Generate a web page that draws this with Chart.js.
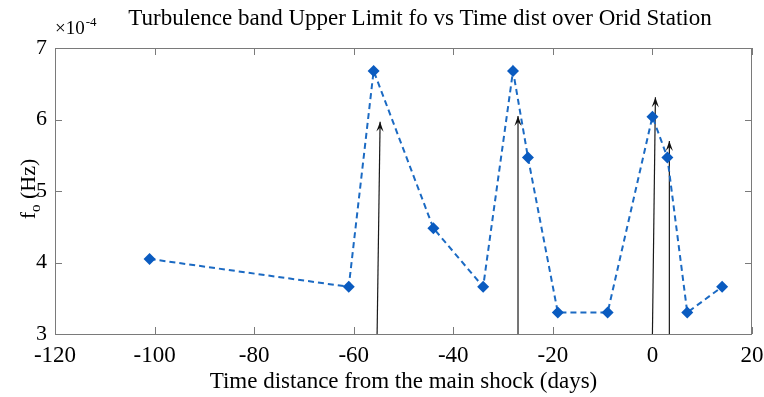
<!DOCTYPE html>
<html><head><meta charset="utf-8">
<script src="https://cdn.jsdelivr.net/npm/chart.js@4/dist/chart.umd.min.js"></script>
<style>html,body{margin:0;padding:0;background:#fff}#wrap{width:764px;height:397px;position:relative}</style>
</head><body><div id="wrap"><canvas id="c" width="764" height="397"></canvas></div>
<script>
// ---- data (fo in units of 1e-4 Hz) ----
const days = [-101, -61, -56, -44, -34, -28, -25, -19, -9, 0, 3, 7, 14];
const foE4 = [4.05, 3.66, 6.68, 4.48, 3.66, 6.68, 5.47, 3.30, 3.30, 6.04, 5.47, 3.30, 3.66];
// arrows (events): base on x axis, tip position
const arrowBaseX = [-55.3, -27, 0, 3.4];
const arrowTipX = [-54.7, -27, 0.6, 3.4];
const arrowTipY = [5.97, 6.05, 6.31, 5.70];
const xTicks = [-120, -100, -80, -60, -40, -20, 0, 20];
const yTicks = [3, 4, 5, 6, 7];
const titleText = 'Turbulence band Upper Limit fo vs Time dist over Orid Station';
const xLabel = 'Time distance from the main shock (days)';
const yLabelMain = 'f';
const yLabelSub = 'o';
const yLabelRest = ' (Hz)';
const expBase = '\u00d710';
const expPow = '-4';

const SERIF = '"Liberation Serif", "Times New Roman", serif';
const Y_MIN = 3, Y_MAX = 7, X_MIN = -120, X_MAX = 20;

const datasets = [{
  label: 'fo',
  data: days.map((d, i) => ({x: d, y: foE4[i]})),
  borderColor: '#1b6ac3',
  borderWidth: 2,
  borderDash: [6, 4],
  pointStyle: 'rectRot',
  pointRadius: 6,
  pointBackgroundColor: '#0a5bc0',
  pointBorderColor: '#0a5bc0',
  pointBorderWidth: 0,
  tension: 0,
  order: 1
}];
arrowBaseX.forEach((bx, i) => {
  datasets.push({
    label: 'arrow' + i,
    isArrow: true,
    data: [{x: bx, y: Y_MIN}, {x: arrowTipX[i], y: arrowTipY[i]}],
    borderColor: '#1a1a1a',
    borderWidth: 1.2,
    pointRadius: 0,
    tension: 0,
    order: 2
  });
});

const decor = {
  id: 'decor',
  beforeDatasetsDraw(chart) {
    const {ctx, chartArea: a, scales: {x, y}} = chart;
    ctx.save();
    ctx.strokeStyle = '#7a7a7a';
    ctx.lineWidth = 1;
    ctx.strokeRect(a.left + 0.5, a.top + 0.5, a.right - a.left - 1, a.bottom - a.top);
    const tl = 7;
    ctx.beginPath();
    xTicks.forEach(v => {
      const px = Math.round(x.getPixelForValue(v)) + 0.5;
      ctx.moveTo(px, a.bottom); ctx.lineTo(px, a.bottom - tl);
      ctx.moveTo(px, a.top); ctx.lineTo(px, a.top + tl);
    });
    yTicks.forEach(v => {
      const py = Math.round(y.getPixelForValue(v)) + 0.5;
      ctx.moveTo(a.left, py); ctx.lineTo(a.left + tl, py);
      ctx.moveTo(a.right, py); ctx.lineTo(a.right - tl, py);
    });
    ctx.stroke();
    ctx.restore();
  },
  afterDatasetsDraw(chart) {
    const {ctx} = chart;
    ctx.save();
    chart.data.datasets.forEach((ds, i) => {
      if (!ds.isArrow) return;
      const pts = chart.getDatasetMeta(i).data;
      const p0 = pts[0], p1 = pts[1];
      const ang = Math.atan2(p1.y - p0.y, p1.x - p0.x);
      const L = 10, W = 3.6;
      ctx.translate(p1.x, p1.y);
      ctx.rotate(ang);
      ctx.beginPath();
      ctx.moveTo(0, 0);
      ctx.lineTo(-L, -W);
      ctx.lineTo(-L * 0.6, 0);
      ctx.lineTo(-L, W);
      ctx.closePath();
      ctx.fillStyle = '#111';
      ctx.fill();
      ctx.setTransform(1, 0, 0, 1, 0, 0);
    });
    ctx.restore();
  },
  afterDraw(chart) {
    const {ctx, chartArea: a} = chart;
    ctx.save();
    ctx.fillStyle = '#000';
    // title
    ctx.font = '23px ' + SERIF;
    ctx.textAlign = 'center';
    ctx.textBaseline = 'alphabetic';
    ctx.fillText(titleText, 420, 25);
    // exponent
    ctx.textAlign = 'left';
    ctx.font = '19px ' + SERIF;
    ctx.fillText(expBase, a.left, 34);
    const w0 = ctx.measureText(expBase).width;
    ctx.font = '13px ' + SERIF;
    ctx.fillText(expPow, a.left + w0 + 1, 26);
    // y label
    ctx.translate(28, 189);
    ctx.rotate(-Math.PI / 2);
    ctx.font = '22px ' + SERIF;
    const wf = ctx.measureText(yLabelMain).width;
    const wr = ctx.measureText(yLabelRest).width;
    ctx.font = '15px ' + SERIF;
    const ws = ctx.measureText(yLabelSub).width;
    const tot = wf + ws + wr;
    let cx = -tot / 2;
    ctx.font = '22px ' + SERIF;
    ctx.fillText(yLabelMain, cx, 7); cx += wf;
    ctx.font = '15px ' + SERIF;
    ctx.fillText(yLabelSub, cx, 12); cx += ws;
    ctx.font = '22px ' + SERIF;
    ctx.fillText(yLabelRest, cx, 7);
    ctx.restore();
  }
};

new Chart(document.getElementById('c'), {
  type: 'line',
  data: {datasets},
  options: {
    responsive: false,
    devicePixelRatio: 1,
    animation: false,
    layout: {padding: {top: 48, right: 12, left: 0, bottom: 0}},
    plugins: {legend: {display: false}, title: {display: false}, tooltip: {enabled: false}},
    scales: {
      x: {
        type: 'linear', min: X_MIN, max: X_MAX,
        afterBuildTicks: s => { s.ticks = xTicks.map(v => ({value: v})); },
        afterFit: s => { s.height = 63; s.paddingLeft = 0; s.paddingRight = 0; },
        grid: {display: false, drawTicks: false},
        border: {display: false},
        ticks: {font: {family: SERIF, size: 23}, color: '#000', padding: 8, maxRotation: 0, autoSkip: false},
        title: {display: true, text: xLabel, font: {family: SERIF, size: 23}, color: '#000', padding: {top: 0, bottom: 1}}
      },
      y: {
        type: 'linear', min: Y_MIN, max: Y_MAX,
        afterBuildTicks: s => { s.ticks = yTicks.map(v => ({value: v})); },
        afterFit: s => { s.width = 55; s.paddingTop = 0; s.paddingBottom = 0; },
        grid: {display: false, drawTicks: false},
        border: {display: false},
        ticks: {font: {family: SERIF, size: 22}, color: '#000', padding: 8, autoSkip: false}
      }
    }
  },
  plugins: [decor]
});
</script>
</body></html>
